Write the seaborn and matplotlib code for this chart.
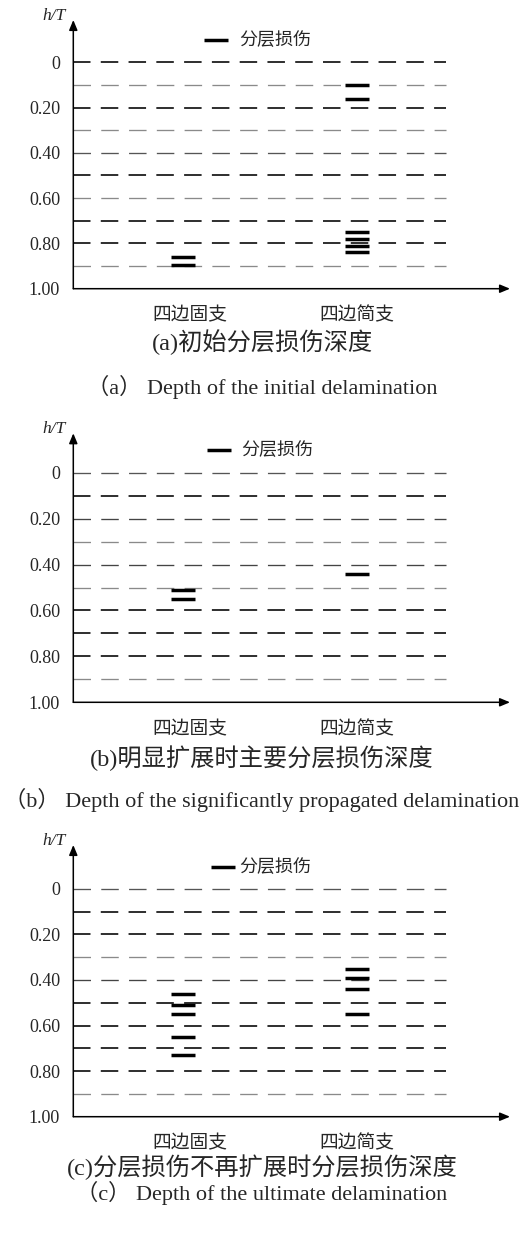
import matplotlib
matplotlib.use("Agg")
import matplotlib.pyplot as plt
import matplotlib.transforms as mtransforms
from matplotlib.font_manager import FontProperties
import numpy as np
import pandas as pd
import seaborn as sns

# ---- data -------------------------------------------------------------
categories = ["四边固支", "四边简支"]
legend_label = "分层损伤"
ytick_values = [0.0, 0.2, 0.4, 0.6, 0.8, 1.0]
ytick_labels = ["0", "0.20", "0.40", "0.60", "0.80", "1.00"]
layer_levels = [0.0, 0.1, 0.2, 0.3, 0.4, 0.5, 0.6, 0.7, 0.8, 0.9]

# delamination depth h/T for each boundary condition
a_fixed = [0.86, 0.895]
a_simple = [0.10, 0.16, 0.75, 0.78, 0.81, 0.84]
b_fixed = [0.51, 0.55]
b_simple = [0.44]
c_fixed = [0.46, 0.51, 0.55, 0.65, 0.73]
c_simple = [0.35, 0.39, 0.44, 0.55]

titles_cn = ["(a)初始分层损伤深度",
             "(b)明显扩展时主要分层损伤深度",
             "(c)分层损伤不再扩展时分层损伤深度"]
titles_en = ["（a） Depth of the initial delamination",
             "（b） Depth of the significantly propagated delamination",
             "（c） Depth of the ultimate delamination"]

# ---- style ------------------------------------------------------------
sns.set_style("white")
plt.rcParams["font.family"] = ["Liberation Serif", "Noto Sans CJK SC"]
plt.rcParams["lines.scale_dashes"] = False

W, H = 531, 1233
fig = plt.figure(figsize=(W / 100, H / 100), dpi=100)
fig.patch.set_facecolor("white")


def fx(px):
    return px / W


def fy(py):
    return 1 - py / H


SERIF = ["Liberation Serif", "Noto Sans CJK SC"]
CJK = ["Noto Sans CJK SC", "DejaVu Sans"]

# horizontal layout (pixels): y-axis at 73, x-arrow tip at 510
AX_L, AX_R = 73.3, 510.0
CAT0_PX, CAT_STEP_PX = 183.0, 174.0
GRID_END_PX = 446.0
x_left = (AX_L - CAT0_PX) / CAT_STEP_PX
x_right = (AX_R - CAT0_PX) / CAT_STEP_PX
x_grid_end = (GRID_END_PX - CAT0_PX) / CAT_STEP_PX

DARK, GREY = "#1e1e1e", "#8a8a8a"
panels = [
    dict(fixed=a_fixed, simple=a_simple, top=20.0, zero=62.3, axis=288.7,
         legend=(204.0, 40.0), gap=0.6, cn_y=341.7, en_y=386.7,
         shades=[DARK, GREY, DARK, GREY, "#555555", DARK, GREY, DARK, DARK, GREY]),
    dict(fixed=b_fixed, simple=b_simple, top=433.3, zero=472.7, axis=702.3,
         legend=(207.0, 450.0), gap=0.55, cn_y=758.0, en_y=800.0,
         shades=["#555555", DARK, "#444444", GREY, "#444444", GREY, DARK, DARK, DARK, GREY]),
    dict(fixed=c_fixed, simple=c_simple, top=845.0, zero=888.7, axis=1116.7,
         legend=(211.0, 866.7), gap=0.25, cn_y=1166.7, en_y=1193.3,
         shades=["#555555", DARK, DARK, GREY, "#444444", DARK, DARK, DARK, DARK, GREY]),
]

dash = (0, (12.6, 7.4))

for i, p in enumerate(panels):
    scale = (p["axis"] - p["zero"])  # pixels per unit depth
    y_top = -(p["zero"] - p["top"]) / scale
    ax = fig.add_axes([fx(AX_L), fy(p["axis"]), fx(AX_R) - fx(AX_L),
                       (p["axis"] - p["top"]) / H])
    ax.set_xlim(x_left, x_right)
    ax.set_ylim(1.0, y_top)
    ax.set_facecolor("none")
    for sp in ax.spines.values():
        sp.set_visible(False)

    # dashed ply interfaces
    for lvl, col in zip(layer_levels, p["shades"]):
        lw = 1.3 if col == DARK else 0.95
        ax.hlines(lvl, x_left, x_grid_end, colors=col, linewidth=lw,
                  linestyles=[dash], zorder=1)

    df = pd.DataFrame({
        "pos": [0] * len(p["fixed"]) + [1] * len(p["simple"]),
        "depth": p["fixed"] + p["simple"],
    })
    sns.scatterplot(data=df, x="pos", y="depth", marker="_", s=300,
                    color="black", edgecolor="black", linewidth=2.5,
                    ax=ax, zorder=3, label=legend_label, legend=False)

    # axes with arrow heads
    arrow = dict(arrowstyle="-|>,head_length=0.6,head_width=0.25",
                 color="black", lw=1.1, mutation_scale=10,
                 shrinkA=0, shrinkB=0)
    ax.annotate("", xy=(0, 1), xytext=(0, 0), xycoords="axes fraction",
                arrowprops=arrow, annotation_clip=False)
    ax.annotate("", xy=(1, 0), xytext=(0, 0), xycoords="axes fraction",
                arrowprops=arrow, annotation_clip=False)

    ax.set_yticks(ytick_values, ytick_labels)
    ax.tick_params(axis="y", length=0, pad=9.5)
    for t in ax.get_yticklabels():
        t.set_fontfamily(SERIF)
        t.set_fontsize(13)
    ax.set_xticks([0, 1], categories)
    ax.tick_params(axis="x", length=0, pad=11.5)
    for j, t in enumerate(ax.get_xticklabels()):
        t.set_fontfamily(CJK)
        t.set_fontsize(13.5)
        if j == 0:
            t.set_transform(t.get_transform() +
                            mtransforms.ScaledTranslation(7 / 100, 0, fig.dpi_scale_trans))
    ax.set_xlabel("")
    ax.set_ylabel("")

    # axis name
    fig.text(fx(66), fy(p["top"] - 4), "h/T", ha="right", va="center",
             fontsize=12.5, fontstyle="italic", family=SERIF)

    # legend
    lx, ly = p["legend"]
    ax.legend(loc="center left", bbox_to_anchor=(fx(lx), fy(ly)),
              bbox_transform=fig.transFigure, frameon=False, borderpad=0,
              borderaxespad=0, handlelength=1.33, handletextpad=p["gap"],
              scatterpoints=1, prop=FontProperties(family=CJK, size=13))

    # captions
    fig.text(fx(262), fy(p["cn_y"]), titles_cn[i], ha="center", va="center",
             fontsize=17.5, family=SERIF)
    fig.text(fx(262), fy(p["en_y"]), titles_en[i], ha="center", va="center",
             fontsize=16, family=SERIF)

fig.savefig("out.png", dpi=100, facecolor="white")
